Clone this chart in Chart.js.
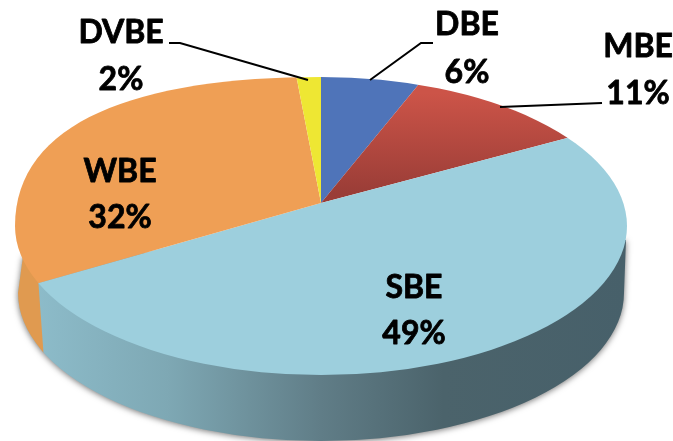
<!DOCTYPE html>
<html lang="en">
<head>
  <meta charset="UTF-8" />
  <title>Pie</title>
  <script src="https://cdn.jsdelivr.net/npm/chart.js"></script>
  <style>
    html, body { margin: 0; padding: 0; background: #fff; }
    canvas { display: block; }
  </style>
</head>
<body>
  <canvas id="chart" width="673" height="441"></canvas>

  <script>
    const categories = ["DBE", "MBE", "SBE", "WBE", "DVBE"];
    const shares = [6, 11, 49, 32, 2];
    const sliceColors = ["#4f74b9", "#c44f43", "#9dcfdd", "#ef9f55", "#eee733"];

    // page geometry of the tilted disc
    const apex = { x: 321, y: 203 };
    const rim = { x: 321, y: 226, rx: 306, ry: 149 };
    const floor = { x: 321, y: 293, rx: 303, ry: 148 };
    const reach = 450; // wedges overshoot the rim, the rim clip trims them

    // perspective: each part of the disc squashes by its own ratio
    const parts = [
      { x: 0, y: 0, w: apex.x, h: apex.y, ratio: 1.54 },
      { x: apex.x, y: 0, w: 673 - apex.x, h: apex.y, ratio: 2.08 },
      { x: 0, y: apex.y, w: 673, h: 441 - apex.y, ratio: 2.236 }
    ];

    const labelSpots = [
      { x: 467, y: 35, y2: 83 },
      { x: 638, y: 57, y2: 104 },
      { x: 414, y: 298, y2: 344 },
      { x: 120, y: 182, y2: 228 },
      { x: 121, y: 43, y2: 90 }
    ];
    const leaders = [
      [[169, 43], [180, 43], [308, 80]],
      [[433, 43], [421, 43], [370, 80]],
      [[602, 103], [500, 107]]
    ];

    function rimPoint(angle) {
      const dx = Math.cos(angle), dy = Math.sin(angle) / parts[2].ratio;
      const ox = (apex.x - rim.x) / rim.rx, oy = (apex.y - rim.y) / rim.ry;
      const ax = dx / rim.rx, ay = dy / rim.ry;
      const a = ax * ax + ay * ay, b = 2 * (ox * ax + oy * ay), c = ox * ox + oy * oy - 1;
      const t = (-b + Math.sqrt(b * b - 4 * a * c)) / (2 * a);
      return { x: apex.x + t * dx, y: apex.y + t * dy };
    }

    // top outline: upper left bulges more than a true ellipse
    function rimPath(ctx) {
      const left = rim.x - rim.rx, top = rim.y - rim.ry;
      ctx.beginPath();
      ctx.moveTo(left, rim.y);
      ctx.bezierCurveTo(left, rim.y - rim.ry * 0.7, rim.x - rim.rx * 0.6, top, rim.x, top);
      ctx.ellipse(rim.x, rim.y, rim.rx, rim.ry, 0, -Math.PI / 2, Math.PI);
      ctx.closePath();
    }

    function sidePath(ctx) {
      ctx.beginPath();
      ctx.moveTo(23, 256);
      ctx.lineTo(floor.x - floor.rx, floor.y);
      ctx.ellipse(floor.x, floor.y, floor.rx, floor.ry, 0, Math.PI, 0, true);
      ctx.lineTo(626, 240);
      ctx.closePath();
    }

    const disc3d = {
      id: "disc3d",
      beforeDatasetDraw(chart, args) {
        const ctx = chart.ctx;
        const meta = args.meta;
        const arc0 = meta.data[0];

        // side wall
        const wall = ctx.createLinearGradient(rim.x - rim.rx, 0, rim.x + rim.rx, 0);
        wall.addColorStop(0.03, "#8dbcca");
        wall.addColorStop(0.25, "#7ea8b4");
        wall.addColorStop(0.5, "#607d87");
        wall.addColorStop(0.7, "#4b636b");
        wall.addColorStop(1, "#47606a");
        ctx.save();
        ctx.shadowColor = "rgba(0,0,0,0.55)";
        ctx.shadowBlur = 6;
        ctx.shadowOffsetY = 1;
        sidePath(ctx);
        ctx.fillStyle = wall;
        ctx.fill();
        ctx.restore();

        // the orange slice wraps round the left edge
        const p = rimPoint(meta.data[3].startAngle);
        ctx.save();
        ctx.beginPath();
        ctx.moveTo(p.x, p.y);
        ctx.lineTo(p.x + 5, p.y + 69);
        ctx.lineTo(0, 441);
        ctx.lineTo(0, p.y - 100);
        ctx.lineTo(p.x, p.y - 100);
        ctx.closePath();
        ctx.clip();
        sidePath(ctx);
        ctx.fillStyle = "#e09a50";
        ctx.fill();
        ctx.restore();

        // top face, chart.js arcs under a squash
        const scale = reach / arc0.outerRadius;
        parts.forEach(part => {
          ctx.save();
          rimPath(ctx);
          ctx.clip();
          ctx.beginPath();
          ctx.rect(part.x, part.y, part.w, part.h);
          ctx.clip();
          ctx.translate(apex.x, apex.y);
          ctx.scale(scale, scale / part.ratio);
          ctx.translate(-arc0.x, -arc0.y);
          meta.controller.draw();
          ctx.restore();
        });
        return false;
      },
      afterDraw(chart) {
        const ctx = chart.ctx;
        ctx.save();
        ctx.strokeStyle = "#000";
        ctx.lineWidth = 2;
        leaders.forEach(line => {
          ctx.beginPath();
          line.forEach((pt, i) => i ? ctx.lineTo(pt[0], pt[1]) : ctx.moveTo(pt[0], pt[1]));
          ctx.stroke();
        });
        ctx.fillStyle = "#000";
        ctx.font = "bold 32px Lato";
        ctx.textAlign = "center";
        ctx.lineWidth = 0.8;
        ctx.lineJoin = "round";
        categories.forEach((name, i) => {
          const spot = labelSpots[i];
          ctx.strokeText(name, spot.x, spot.y);
          ctx.fillText(name, spot.x, spot.y);
          ctx.strokeText(shares[i] + "%", spot.x, spot.y2);
          ctx.fillText(shares[i] + "%", spot.x, spot.y2);
        });
        ctx.restore();
      }
    };

    new Chart(document.getElementById("chart"), {
      type: "pie",
      data: {
        labels: categories,
        datasets: [{
          data: shares,
          borderWidth: 0,
          backgroundColor(c) {
            if (c.dataIndex !== 1 || !c.chart.chartArea) return sliceColors[c.dataIndex];
            // red slice darkens towards the apex
            const area = c.chart.chartArea;
            const r = Math.min(area.width, area.height) / 2;
            const cy = (area.top + area.bottom) / 2;
            const k = r / reach * parts[1].ratio;
            const g = c.chart.ctx.createLinearGradient(0, cy - 110 * k, 0, cy - 10 * k);
            g.addColorStop(0, "#cc5448");
            g.addColorStop(1, "#9a3d37");
            return g;
          }
        }]
      },
      options: {
        responsive: false,
        animation: false,
        layout: { padding: 0 },
        plugins: { legend: { display: false }, tooltip: { enabled: false } }
      },
      plugins: [disc3d]
    });
  </script>
</body>
</html>
